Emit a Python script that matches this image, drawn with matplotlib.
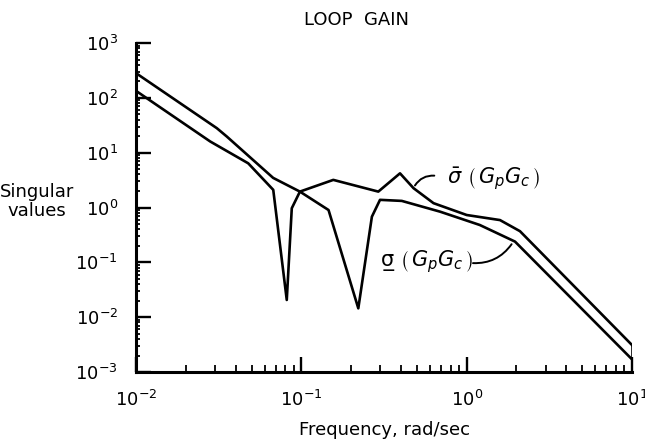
import matplotlib
matplotlib.use("Agg")
import matplotlib.pyplot as plt
from matplotlib.ticker import LogLocator, NullFormatter

# ── data ──────────────────────────────────────────────────────────────────────
freq_max = [0.01, 0.0308, 0.0354, 0.0675, 0.098, 0.156, 0.292, 0.395,
            0.477, 0.63, 1.0, 1.59, 2.1, 10.0]
sigma_max = [282, 28, 19.7, 3.47, 1.95, 3.19, 1.95, 4.2,
             2.25, 1.2, 0.73, 0.59, 0.37, 0.0031]

freq_min = [0.01, 0.0281, 0.0477, 0.0676, 0.0816, 0.0875, 0.098, 0.146,
            0.221, 0.267, 0.299, 0.405, 0.69, 1.2, 1.96, 10.0]
sigma_min = [134, 16, 6.4, 2.1, 0.0206, 0.97, 1.95, 0.90,
             0.0145, 0.68, 1.38, 1.32, 0.84, 0.48, 0.239, 0.0017]

x_ticks = [1e-2, 1e-1, 1e0, 1e1]
x_ticklabels = [r"$10^{-2}$", r"$10^{-1}$", r"$10^{0}$", r"$10^{1}$"]
y_ticks = [1e-3, 1e-2, 1e-1, 1e0, 1e1, 1e2, 1e3]
y_ticklabels = [r"$10^{-3}$", r"$10^{-2}$", r"$10^{-1}$", r"$10^{0}$",
                r"$10^{1}$", r"$10^{2}$", r"$10^{3}$"]

FONT = ["Liberation Sans Narrow", "DejaVu Sans"]
plt.rcParams["font.family"] = FONT
plt.rcParams["mathtext.fontset"] = "dejavusans"

fig = plt.figure(figsize=(6.45, 4.48), dpi=100)
ax = fig.add_axes([0.2109, 0.1696, 0.7690, 0.7344])

ax.plot(freq_max, sigma_max, color="black", linewidth=1.9)
ax.plot(freq_min, sigma_min, color="black", linewidth=1.9)
# pen drop at the right end joining both curves
ax.plot([freq_max[-1], freq_min[-1]], [sigma_max[-1], sigma_min[-1]],
        color="black", linewidth=1.9)

ax.set_xscale("log")
ax.set_yscale("log")
ax.set_xlim(1e-2, 1e1)
ax.set_ylim(1e-3, 1e3)

ax.set_xticks(x_ticks)
ax.set_xticklabels(x_ticklabels, fontsize=13)
ax.set_yticks(y_ticks)
ax.set_yticklabels(y_ticklabels, fontsize=13)
ax.xaxis.set_minor_locator(LogLocator(base=10, subs=range(2, 10)))
ax.yaxis.set_minor_locator(LogLocator(base=10, subs=range(2, 10)))
ax.xaxis.set_minor_formatter(NullFormatter())
ax.yaxis.set_minor_formatter(NullFormatter())

ax.tick_params(which="major", direction="in", length=11, width=1.7, pad=13)
ax.tick_params(which="minor", direction="in", length=5, width=1.3)
ax.tick_params(axis="y", which="minor", length=3)

ax.spines[["top", "right"]].set_visible(False)
for s in ["left", "bottom"]:
    ax.spines[s].set_linewidth(2.2)

ax.set_xlabel("Frequency, rad/sec", fontsize=13, labelpad=8)
fig.text(0.057, 0.55, "Singular\nvalues", fontsize=13, ha="center",
         va="center", linespacing=1.1)
fig.text(0.553, 0.955, "LOOP  GAIN", fontsize=13, ha="center", va="center")

# curve labels with leader lines
ax.text(0.76, 3.19, r"$\bar{\sigma}\ \left(\,G_pG_c\,\right)$", fontsize=15,
        ha="left", va="center")
ax.annotate("", xy=(0.477, 2.28), xytext=(0.662, 3.77),
            arrowprops=dict(arrowstyle="-", color="black", lw=1.4,
                            connectionstyle="arc3,rad=0.35"))
ax.text(0.299, 0.102, "σ\u0332" + r"$\ \left(\,G_pG_c\,\right)$", fontsize=15,
        ha="left", va="center")
ax.annotate("", xy=(1.91, 0.236), xytext=(1.05, 0.0975),
            arrowprops=dict(arrowstyle="-", color="black", lw=1.4,
                            connectionstyle="arc3,rad=0.3"))

fig.savefig("out.png", dpi=100)
